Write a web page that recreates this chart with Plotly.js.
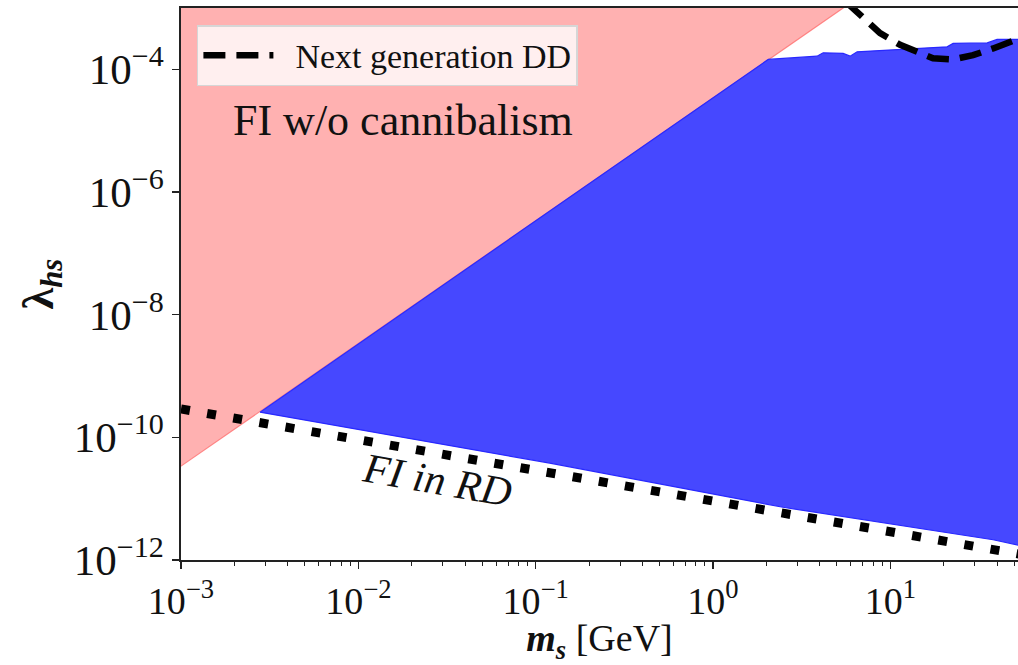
<!DOCTYPE html>
<html>
<head>
<meta charset="utf-8">
<script src="https://cdn.plot.ly/plotly-3.0.1.min.js"></script>
<style>html,body{margin:0;padding:0;background:#fff;}#chart{width:1018px;height:665px;}</style>
</head>
<body>
<div id="chart"></div>
<script>
// FI w/o cannibalism region (pink)
const pinkM = [9e-4, 5.94, 9e-4];
const pinkL = [2.75e-11, 1.2e-3, 1.2e-3];

// Blue allowed region: upper boundary then lower boundary
const blueUpperM = [2.79e-3, 2.05, 3.86, 4.18, 5.42, 5.93, 6.5, 11.35, 20.9, 22.6, 35.2, 40, 55];
const blueUpperL = [2.57e-10, 1.45e-4, 1.64e-4, 1.86e-4, 1.82e-4, 1.64e-4, 1.93e-4, 2.11e-4, 2.33e-4, 2.64e-4, 2.7e-4, 3.07e-4, 3.07e-4];
const blueLowerM = [55, 38, 2.48, 0.12, 2.79e-3];
const blueLowerL = [1.7e-12, 2.14e-12, 7.24e-12, 3.8e-11, 2.57e-10];

// FI in RD (dotted)
const rdM = [1e-3, 1e-2, 1e-1, 1, 10, 55];
const rdL = [2.9e-10, 9.1e-11, 2.9e-11, 9.1e-12, 2.9e-12, 1.23e-12];

// Next generation DD (dashed)
const ddM = [5.62, 6.17, 7.40, 8.75, 11.35, 14.7, 17.4, 22.6, 29.3, 38.0, 51.9, 63];
const ddL = [1.26e-3, 1e-3, 6.34e-4, 3.89e-4, 2.51e-4, 1.82e-4, 1.51e-4, 1.45e-4, 1.70e-4, 2.19e-4, 3.09e-4, 3.8e-4];

// Tick labels
const xTickVals = [1e-3, 1e-2, 1e-1, 1, 10];
const xTickText = ['10<sup>−3</sup>', '10<sup>−2</sup>', '10<sup>−1</sup>', '10<sup>0</sup>', '10<sup>1</sup>'];
const yTickVals = [1e-12, 1e-10, 1e-8, 1e-6, 1e-4];
const yTickText = ['10<sup>−12</sup>', '10<sup>−10</sup>', '10<sup>−8</sup>', '10<sup>−6</sup>', '10<sup>−4</sup>'];

const FONT = "'Liberation Serif', 'DejaVu Serif', serif";

const minorX = [];
for (let e = -3; e <= 1; e++) for (let d = 2; d <= 9; d++) minorX.push(d * Math.pow(10, e));

const traces = [
  {x: pinkM, y: pinkL, mode: 'lines', fill: 'toself', fillcolor: 'rgb(255,177,177)',
   line: {color: 'rgba(255,110,110,0.8)', width: 1.2}, showlegend: false, hoverinfo: 'skip'},
  {x: blueUpperM.concat(blueLowerM), y: blueUpperL.concat(blueLowerL), mode: 'lines', fill: 'toself',
   fillcolor: 'rgb(70,72,255)', line: {color: 'rgb(40,40,255)', width: 1.2}, showlegend: false, hoverinfo: 'skip'},
  {x: rdM, y: rdL, mode: 'lines', line: {color: '#000', width: 9, dash: '9px,17.5px'}, showlegend: false},
  {x: ddM, y: ddL, mode: 'lines', name: '  Next generation DD',
   line: {color: '#000', width: 6.5, dash: '22px,11px'}}
];

const layout = {
  width: 1018, height: 665,
  margin: {l: 181, r: 0, t: 8, b: 105},
  paper_bgcolor: '#fff', plot_bgcolor: '#fff',
  font: {family: FONT, color: '#111', size: 36},
  showlegend: true,
  legend: {x: 0.019, y: 0.969, xanchor: 'left', yanchor: 'top',
    bgcolor: 'rgba(255,255,255,0.8)', bordercolor: '#d6d6d6', borderwidth: 1.5,
    font: {family: FONT, size: 34, color: '#111'}, itemwidth: 70},
  xaxis: {type: 'log', range: [-3, 1.72], showgrid: false, zeroline: false,
    showline: true, linecolor: '#222', linewidth: 1.6, mirror: true,
    ticks: 'outside', ticklen: 7, tickwidth: 1.4, tickcolor: '#222',
    tickmode: 'array', tickvals: xTickVals, ticktext: xTickText, tickfont: {size: 38, family: FONT},
    minor: {tickvals: minorX, ticks: 'outside', ticklen: 4, tickwidth: 1, tickcolor: '#222', showgrid: false},
    title: {text: '<b><i>m</i></b><sub><b><i>s</i></b></sub> [GeV]', font: {size: 38, family: FONT}, standoff: 2}},
  yaxis: {type: 'log', range: [-12, -3], showgrid: false, zeroline: false,
    showline: true, linecolor: '#222', linewidth: 1.6, mirror: false,
    ticks: 'outside', ticklen: 7, tickwidth: 1.4, tickcolor: '#222',
    tickmode: 'array', tickvals: yTickVals, ticktext: yTickText, tickfont: {size: 43, family: FONT},
    title: {text: '<b>λ</b><sub><b><i>hs</i></b></sub>', font: {size: 44, family: FONT}, standoff: 6}},
  annotations: [
    {x: Math.log10(0.01786), y: Math.log10(1.48e-5), xref: 'x', yref: 'y', text: 'FI w/o cannibalism',
     showarrow: false, font: {size: 44, family: FONT, color: '#111'}},
    {x: Math.log10(0.0278), y: Math.log10(2.0e-11), xref: 'x', yref: 'y', text: '<i>FI in RD</i>',
     showarrow: false, textangle: 10, font: {size: 42, family: FONT, color: '#111'}}
  ]
};

Plotly.newPlot('chart', traces, layout, {displayModeBar: false, staticPlot: true});
</script>
</body>
</html>
